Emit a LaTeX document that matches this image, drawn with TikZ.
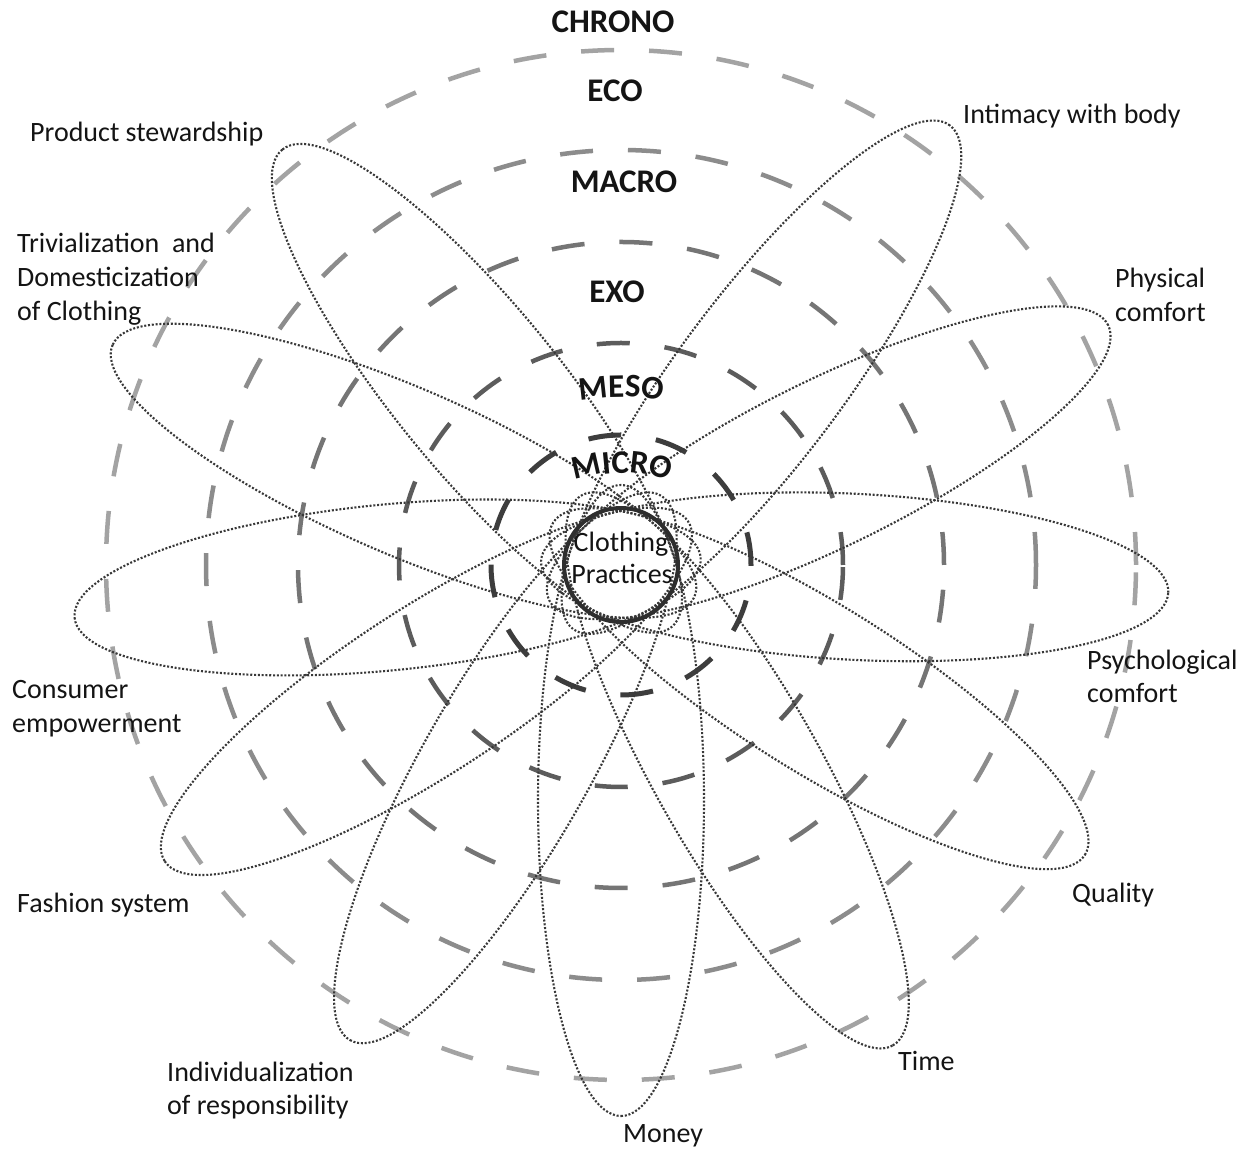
\documentclass[tikz,border=0pt]{standalone}
\usepackage{fontspec}
\setmainfont{Carlito}
\usetikzlibrary{decorations.text}
\definecolor{ringA}{gray}{0.64}
\definecolor{ringB}{gray}{0.55}
\definecolor{ringC}{gray}{0.46}
\definecolor{ringD}{gray}{0.36}
\definecolor{ringE}{gray}{0.24}
\definecolor{corecol}{gray}{0.18}
\definecolor{petalcol}{gray}{0.22}
\definecolor{txtcol}{gray}{0.08}
\newcommand\lvlfont{\fontsize{33}{40}\selectfont\bfseries}
\begin{document}
\begin{tikzpicture}[x=1pt,y=1pt,
  ringline/.style={line width=4.5pt, dash pattern=on 33pt off 35pt},
  petal/.style={draw=petalcol, line width=2.1pt, dash pattern=on 2pt off 1.8pt},
  lab/.style={font=\fontsize{28}{34}\selectfont, text=txtcol, inner sep=0pt, anchor=base west},
  lvl/.style={font=\lvlfont, text=txtcol, inner sep=0pt, anchor=base}]
\useasboundingbox (0,0) rectangle (1248,1151);
\fill[white] (0,0) rectangle (1248,1151);
\coordinate (C) at (621,586);

% concentric dashed rings
\draw[ringline, draw=ringA] (C) circle[radius=515];
\draw[ringline, draw=ringB] (C) circle[radius=415];
\draw[ringline, draw=ringC] (C) circle[radius=323];
\draw[ringline, draw=ringD] (C) circle[radius=222];
\draw[ringline, draw=ringE, line width=5pt] (C) circle[radius=130];

% petals
\foreach \ang/\len in {-2.9/548, 26.2/543, 53.2/549, 129.2/536, 156.6/554, 185.5/549, 213/544, 240.3/547, 270/551, 299.5/552, 328/547}{
  \begin{scope}[shift={(C)}, rotate=\ang]
    \draw[petal] ({(\len-80)/2},0) ellipse[x radius={(\len+80)/2}, y radius=83];
  \end{scope}
}

% core
\node[circle, draw=corecol, line width=4pt, minimum size=114pt, inner sep=0pt] (core) at (C) {};
\node[lab, anchor=base] (clothing) at (621,599) {Clothing};
\node[lab, anchor=base] (practices) at (622,567) {Practices};

% level labels
\node[lvl] (chrono) at (613,1118) {CHRONO};
\node[lvl] (eco) at (615,1049) {ECO};
\node[lvl] (macro) at (624,958) {MACRO};
\node[lvl] (exo) at (617,848) {EXO};
\path[decorate, decoration={text along path, text={|\lvlfont|MESO}, text align=center, text color=txtcol}]
  (621,504) ++(102:250) arc[start angle=102, end angle=78, radius=250];
\path[decorate, decoration={text along path, text={|\lvlfont|MICRO}, text align=center, text color=txtcol}]
  (622,528) ++(117:150) arc[start angle=117, end angle=63, radius=150];

% outer labels
\node[lab] (prod) at (30,1009) {Product stewardship};
\node[lab] (triv1) at (17,898) {Trivialization\ \ and};
\node[lab] (triv2) at (17,864) {Domesticization};
\node[lab] (triv3) at (17,830) {of Clothing};
\node[lab] (intim) at (963,1027) {Intimacy with body};
\node[lab] (phys1) at (1115,863) {Physical};
\node[lab] (phys2) at (1115,829) {comfort};
\node[lab] (psy1) at (1087,481) {Psychological};
\node[lab] (psy2) at (1087,448) {comfort};
\node[lab] (qual) at (1072,248) {Quality};
\node[lab] (time) at (898,80) {Time};
\node[lab] (money) at (623,8) {Money};
\node[lab] (ind1) at (167,69) {Individualization};
\node[lab] (ind2) at (167,36) {of responsibility};
\node[lab] (fash) at (17,238) {Fashion system};
\node[lab] (cons1) at (12,452) {Consumer};
\node[lab] (cons2) at (12,418) {empowerment};
\end{tikzpicture}
\end{document}
